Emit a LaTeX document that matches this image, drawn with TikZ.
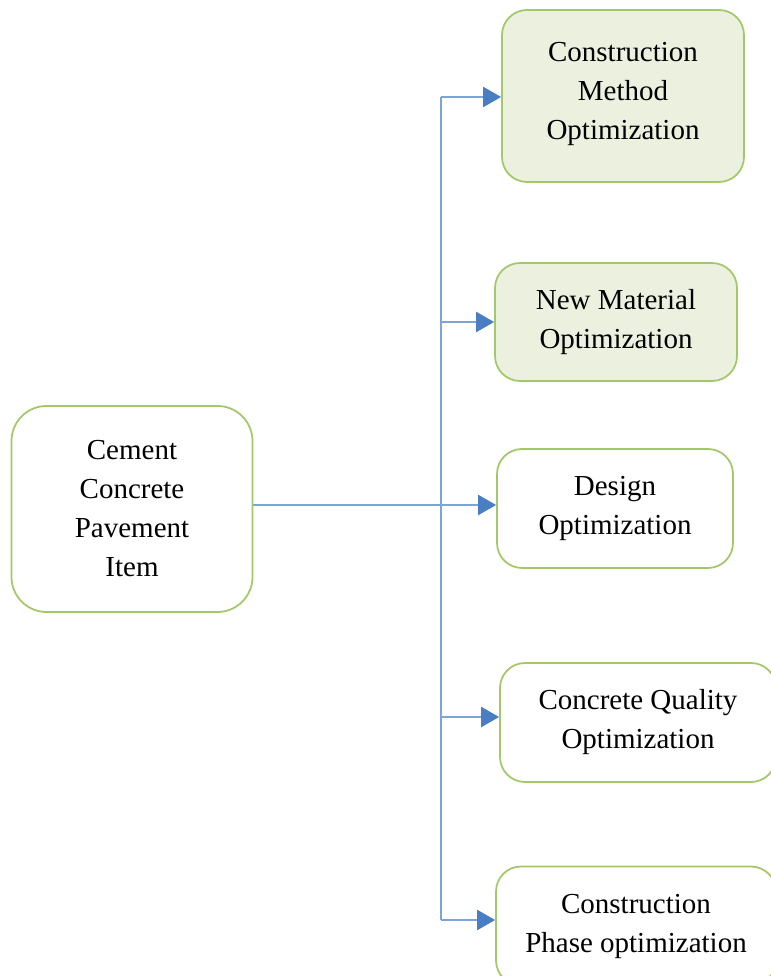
\documentclass[tikz,border=0pt]{standalone}
\usepackage{fontspec}
\setmainfont{Liberation Serif}
\usetikzlibrary{arrows.meta,positioning,calc}
\definecolor{boxfill}{HTML}{EBF1DE}
\definecolor{stroke}{HTML}{A3C86A}
\definecolor{linec}{HTML}{7BA4D8}
\definecolor{arrowc}{HTML}{4A7EC3}

\begin{document}
\begin{tikzpicture}[
  every node/.style={text=black},
  item/.style={rounded corners=0.7cm, draw=stroke, line width=1pt, fill=white,
     align=center, inner sep=4pt, minimum height=4.12cm, minimum width=4.82cm,
     font=\fontsize{16.5}{22.2}\selectfont},
  opt/.style={rounded corners=0.5cm, draw=stroke, line width=1pt, fill=white,
     align=center, inner sep=4pt, minimum height=2.38cm, minimum width=4.72cm,
     font=\fontsize{16.5}{22.2}\selectfont},
  optg/.style={opt, fill=boxfill},
  arr/.style={-{Triangle[length=0.36cm,width=0.4cm]}, line width=1.3pt, draw=linec,
     arrows={[fill=arrowc,color=arrowc]}},
  bus/.style={line width=1.3pt, draw=linec},
]
\useasboundingbox (0,0) rectangle (15.42,19.52);
% --- columns ---
\def\xit{2.64}  \def\xbus{8.82}
% --- item ---
\node[item] (cement) at (\xit,9.34) {Cement\\Concrete\\Pavement\\Item};
% --- optimizations ---
\node[optg, minimum width=4.84cm, minimum height=3.44cm] (method) at (12.46,17.60)
  {Construction\\Method\\Optimization\\[-16.5pt]\mbox{}};
\node[optg, minimum width=4.84cm, minimum height=2.36cm] (material) at (12.32,13.08)
  {New Material\\Optimization};
\node[opt] (design) at (12.30,9.35) {Design\\Optimization};
\node[opt, minimum width=5.52cm] (quality) at (12.76,5.07)
  {Concrete Quality\\Optimization};
\node[opt, minimum width=5.6cm] (phase) at (12.72,1.00)
  {Construction\\Phase optimization};
% --- arrows ---
\coordinate (b) at ($(\xbus,0 |- cement.east)+(0,0.08)$);
\draw[bus] ($(cement.east)+(0,0.08)$) -- (b);
\draw[bus] ($(b |- method.west)+(0,-0.02)$) -- ($(b |- phase.west)+(0,0.12)$);
% branch bus -> optimizations
\draw[arr] ($(b |- method.west)+(0,-0.02)$) -- ($(method.west)+(0,-0.02)$);
\draw[arr] (b |- material.west) -- (material.west);
\draw[arr] (b) -- (b -| design.west);
\draw[arr] ($(b |- quality.west)+(0,0.11)$) -- ($(quality.west)+(0,0.11)$);
\draw[arr] ($(b |- phase.west)+(0,0.12)$) -- ($(phase.west)+(0,0.12)$);
\end{tikzpicture}
\end{document}
